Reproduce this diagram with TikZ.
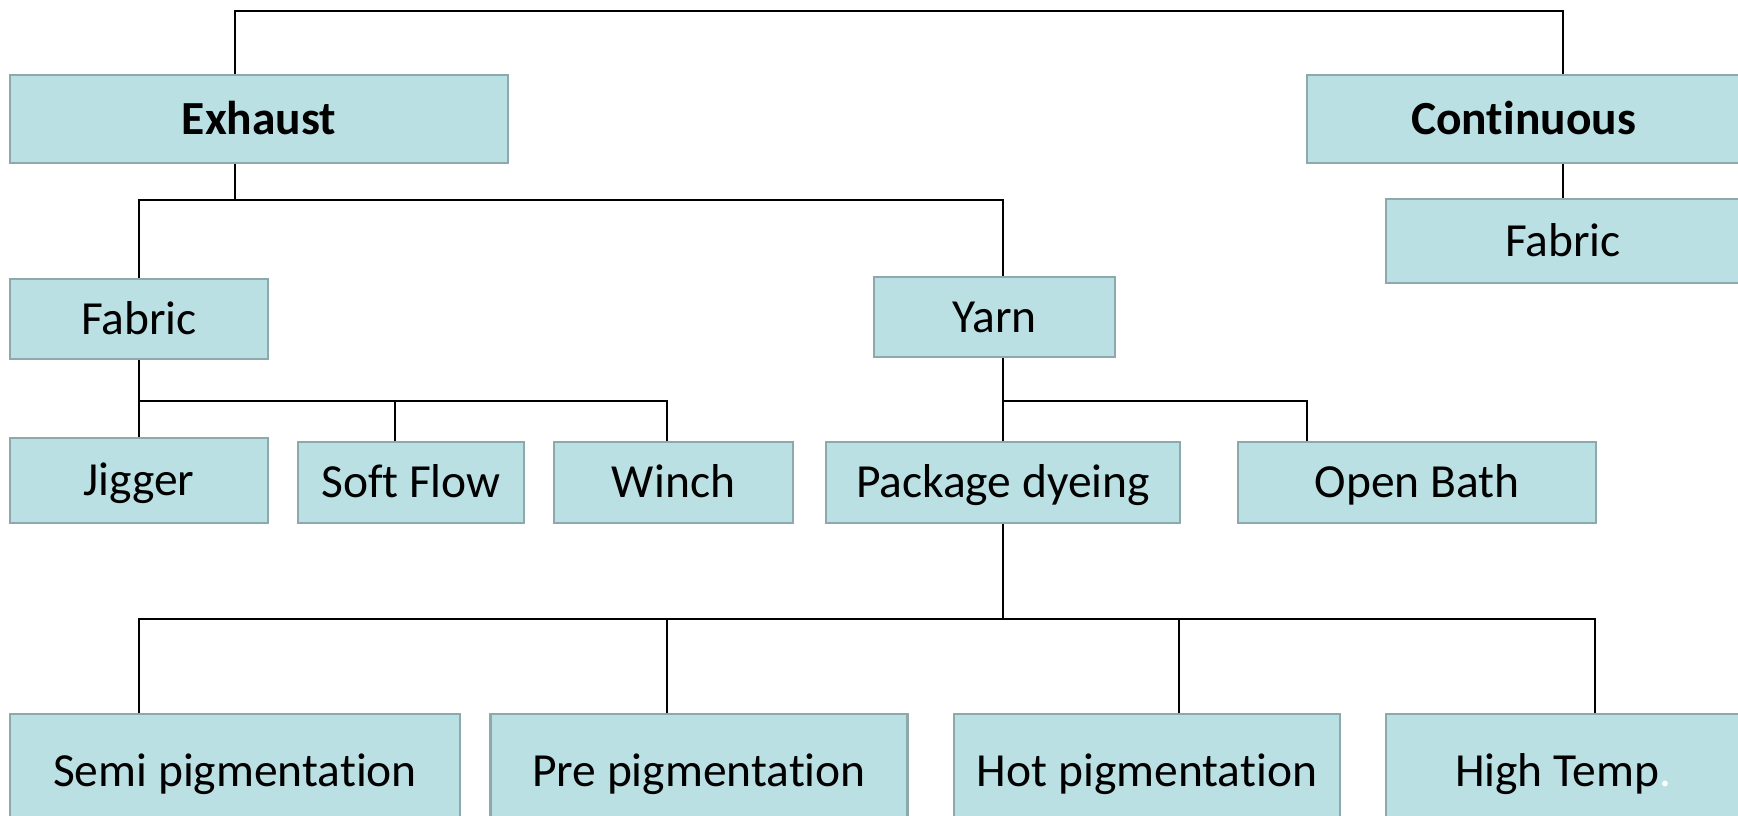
\documentclass[tikz,border=0pt]{standalone}
\usepackage{fontspec}
\setmainfont{Carlito}[Ligatures=NoCommon]
\definecolor{boxfill}{HTML}{BAE0E3}
\definecolor{boxline}{HTML}{8CA9AC}
\begin{document}
\begin{tikzpicture}[x=1pt,y=-1pt,
  box/.style={draw=boxline, line width=2.8pt, fill=boxfill, inner sep=0pt,
    font=\fontsize{47.5}{57}\selectfont, text height=30.6pt, text depth=0pt, anchor=center},
  conn/.style={draw=black, line width=2pt}]
\clip (0,0) rectangle (1738,815);
\useasboundingbox (0,0) rectangle (1738,815);
% nodes
\node[box, minimum width=498pt, minimum height=88pt] (exhaust) at (259,119) {\textbf{Exhaust}};
\node[box, minimum width=433pt, minimum height=88pt] (continuous) at (1523.5,119) {\textbf{Continuous}};
\node[box, minimum width=354pt, minimum height=84pt] (cfabric) at (1563,241) {Fabric};
\node[box, minimum width=258pt, minimum height=80pt] (fabric) at (139,319) {Fabric};
\node[box, minimum width=241pt, minimum height=80pt] (yarn) at (994.5,317) {Yarn};
\node[box, minimum width=258pt, minimum height=85pt] (jigger) at (139,480.5) {Jigger};
\node[box, minimum width=226pt, minimum height=81pt] (softflow) at (411,482.5) {Soft Flow};
\node[box, minimum width=239pt, minimum height=81pt] (winch) at (673.5,482.5) {Winch};
\node[box, minimum width=354pt, minimum height=81pt] (package) at (1003,482.5) {Package dyeing};
\node[box, minimum width=358pt, minimum height=81pt] (openbath) at (1417,482.5) {Open Bath};
\node[box, minimum width=450pt, minimum height=114pt] (semi) at (235,771) {Semi pigmentation};
\node[box, minimum width=417pt, minimum height=114pt] (pre) at (699,771) {Pre pigmentation};
\node[box, minimum width=386pt, minimum height=114pt] (hot) at (1147,771) {Hot pigmentation};
\node[box, minimum width=354pt, minimum height=114pt] (high) at (1563,771) {High Temp\textcolor{white}{.}};
% helper coordinates
\coordinate (ex) at (235,0);
\coordinate (cx) at (1563,0);
\coordinate (fx) at (138.5,0);
\coordinate (yx) at (1003,0);
\coordinate (sx) at (395,0);
\coordinate (wx) at (667,0);
\coordinate (ox) at (1307,0);
\coordinate (px) at (667,0);
\coordinate (hx) at (1179,0);
\coordinate (tx) at (1595,0);
\coordinate (top) at (0,11);
\coordinate (b1) at (0,199.5);
\coordinate (b2) at (0,401);
\coordinate (b3) at (0,619);
% connectors
\draw[conn] (exhaust.north -| ex) -- (ex |- top) -- (cx |- top) -- (continuous.north -| cx);
\draw[conn] (continuous.south -| cx) -- (cfabric.north -| cx);
\draw[conn] (exhaust.south -| ex) -- (ex |- b1);
\draw[conn] (fabric.north -| fx) -- (fx |- b1) -- (yx |- b1) -- (yarn.north -| yx);
\draw[conn] (fabric.south -| fx) -- (jigger.north -| fx);
\draw[conn] (fx |- b2) -- (wx |- b2) -- (winch.north -| wx);
\draw[conn] (sx |- b2) -- (softflow.north -| sx);
\draw[conn] (yarn.south -| yx) -- (package.north -| yx);
\draw[conn] (yx |- b2) -- (ox |- b2) -- (openbath.north -| ox);
\draw[conn] (package.south -| yx) -- (yx |- b3);
\draw[conn] (semi.north -| fx) -- (fx |- b3) -- (tx |- b3) -- (high.north -| tx);
\draw[conn] (px |- b3) -- (pre.north -| px);
\draw[conn] (hx |- b3) -- (hot.north -| hx);
\end{tikzpicture}
\end{document}
